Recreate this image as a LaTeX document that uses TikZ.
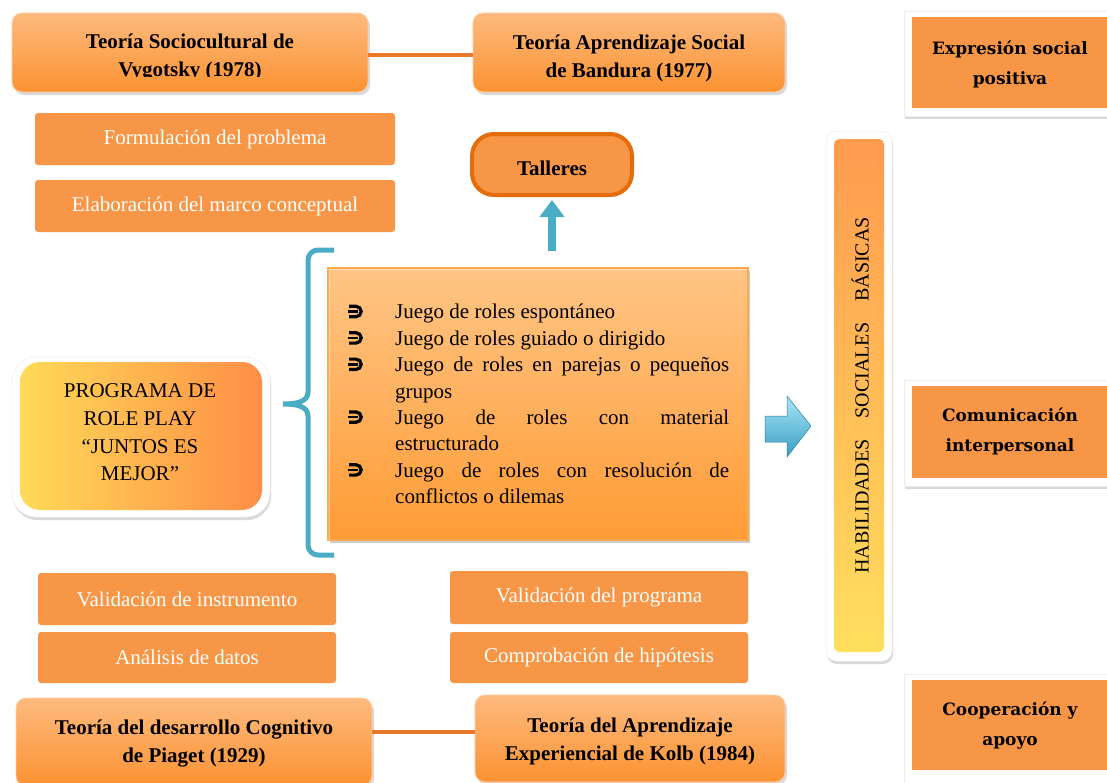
\documentclass[tikz,border=0pt]{standalone}
\usepackage{fontspec}
\setmainfont{Liberation Serif}
\newfontfamily\wideserif{DejaVu Serif}
\usetikzlibrary{shadows,arrows.meta}
\definecolor{flatorange}{HTML}{F79646}
\definecolor{darkorange}{HTML}{E46C0A}
\definecolor{linkorange}{HTML}{E8782A}
\definecolor{thtop}{HTML}{FDBA7E}
\definecolor{thbot}{HTML}{FC9232}
\definecolor{mtop}{HTML}{FFC585}
\definecolor{mbot}{HTML}{FF9C36}
\definecolor{skyblue}{HTML}{4BACC6}
\definecolor{pyellow}{HTML}{FFDA57}
\definecolor{porange}{HTML}{FF8E47}
\definecolor{htop}{HTML}{FF9A4F}
\definecolor{hbot}{HTML}{FFDF5E}
\definecolor{arrtop}{HTML}{A8E6F7}
\definecolor{arrbot}{HTML}{3A9EC4}
\newcommand\myfs[2]{\fontsize{#1}{#2}\selectfont}
\newcommand\gap{\makebox[50pt]{}}
\begin{document}
\begin{tikzpicture}[x=1pt,y=-1pt,
  theory/.style={rounded corners=10pt, top color=thtop, bottom color=thbot,
    draw=thtop!70!white, line width=0.8pt,
    drop shadow={opacity=0.3,shadow xshift=2pt,shadow yshift=-3pt},
    inner sep=0pt},
  theorytext/.style={inner sep=0pt, align=center, font=\bfseries\myfs{21}{28}},
  flat/.style={fill=flatorange, rounded corners=3pt, inner sep=0pt,
    text=white, align=center, font=\myfs{21}{26}},
  frame/.style={fill=white, draw=gray!15, line width=0.5pt,
    drop shadow={opacity=0.3,shadow xshift=1pt,shadow yshift=-3pt}},
  skill/.style={fill=flatorange, inner sep=0pt},
  skilltext/.style={inner sep=0pt, align=center, font=\wideserif\bfseries\myfs{17}{30}},
  bulletmark/.pic={
    \draw[line width=3.2pt] (-7,-5.2) -- (0,-5.2) arc[start angle=90,end angle=-90,radius=5.2pt] -- (-7,5.2);
    \draw[line width=2.6pt] (-8,0) -- (2,0);
  }
]
\useasboundingbox (0,0) rectangle (1107,782);

% theory boxes top
\node[theory, minimum width=356pt, minimum height=79pt] (t1) at (190,52.5) {};
\begin{scope}
  \clip (12,13) rectangle (368,76);
  \node[theorytext] (t1txt) at (190,58) {Teoría Sociocultural de\\Vygotsky (1978)};
\end{scope}
\node[theory, minimum width=312pt, minimum height=79pt] (t2) at (629,52.5) {};
\node[theorytext] (t2txt) at (629,58) {Teoría Aprendizaje Social\\de Bandura (1977)};
\draw[linkorange, line width=4pt] ([yshift=-2.5pt]t1.east) -- ([yshift=-2.5pt]t2.west);

% flat boxes
\node[flat, minimum width=360pt, minimum height=52pt] (f1) at (215,139) {Formulación del problema};
\node[flat, minimum width=360pt, minimum height=52pt] (f2) at (215,206) {Elaboración del marco conceptual};
\node[flat, minimum width=298pt, minimum height=52pt] (f3) at (187,599) {Validación de instrumento};
\node[flat, minimum width=298pt, minimum height=51pt] (f4) at (187,657.5) {Análisis de datos};
\node[flat, minimum width=298pt, minimum height=53pt] (f5) at (599,597.5) {Validación del programa};
\node[flat, minimum width=298pt, minimum height=51pt] (f6) at (599,657.5) {Comprobación de hipótesis};

% Talleres
\node[fill=flatorange, draw=darkorange, line width=4pt, rounded corners=22pt,
  minimum width=160pt, minimum height=61pt, inner sep=0pt] (tal) at (552,164.5) {};
\node[inner sep=0pt, font=\bfseries\myfs{21}{26}] (taltxt) at (552,168) {Talleres};
\coordinate (upstart) at (552,251);
\draw[skyblue, line width=8pt, -{Triangle[width=24pt,length=17pt]}, shorten >=3pt] (upstart) -- (tal.south);

% main box
\node[top color=mtop, bottom color=mbot, draw=mbot!70!mtop, line width=1.2pt,
  drop shadow={opacity=0.4,shadow xshift=2pt,shadow yshift=-3pt},
  minimum width=420pt, minimum height=272pt, inner sep=0pt] (mainbox) at (538,404) {};
\draw[white, opacity=0.45, line width=1.5pt] ([xshift=2pt,yshift=-2pt]mainbox.south west)
  -- ([xshift=2pt,yshift=-2pt]mainbox.north west) -- ([xshift=-2pt,yshift=-2pt]mainbox.north east);
\node[anchor=north west, inner sep=0pt, text width=384pt, align=justify,
  font=\myfs{21}{26.4}] (list) at (345,304) {%
  \hangindent=50pt\hangafter=1\noindent\gap Juego de roles espontáneo\par
  \hangindent=50pt\hangafter=1\noindent\gap Juego de roles guiado o dirigido\par
  \hangindent=50pt\hangafter=1\noindent\gap Juego de roles en parejas o pequeños\linebreak grupos\par
  \hangindent=50pt\hangafter=1\noindent\gap Juego de roles con material\linebreak estructurado\par
  \hangindent=50pt\hangafter=1\noindent\gap Juego de roles con resolución de\linebreak conflictos o dilemas\par};
\foreach \yy in {311.5,337.9,364.3,417.1,469.9}
  \pic at (356,\yy) {bulletmark};

% brace
\draw[skyblue, line width=5pt] (334,250) -- (318,250) to[out=180,in=90] (308,260)
  -- (308,392) to[out=-90,in=0] (283,404) to[out=0,in=90] (308,416)
  -- (308,545) to[out=-90,in=180] (318,555) -- (334,555);

% programa
\node[frame, rounded corners=24pt, minimum width=258pt, minimum height=160pt] (progframe) at (141,437) {};
\node[left color=pyellow, right color=porange, rounded corners=20pt,
  minimum width=242pt, minimum height=148pt, inner sep=0pt] (prog) at (141,436) {};
\node[inner sep=0pt, align=center, font=\myfs{21}{27.7}] (progtxt) at (140,432.5)
  {PROGRAMA DE\\ROLE PLAY\\“JUNTOS ES\\MEJOR”};

% right 3D arrow
\shade[top color=arrtop, bottom color=arrbot, draw=arrbot!80!black, line width=0.5pt]
  (765,416) -- (787,416) -- (787,396) -- (811,426) -- (787,457) -- (787,442) -- (765,442) -- cycle;

% habilidades bar
\node[frame, rounded corners=10pt, minimum width=66pt, minimum height=530pt] (habframe) at (859,396) {};
\node[top color=htop, bottom color=hbot, rounded corners=5pt,
  minimum width=50pt, minimum height=513pt, inner sep=0pt] (hab) at (859,395.5) {};
\node[rotate=90, inner sep=0pt, font=\myfs{20}{24}] (habtxt) at (860,395.5)
  {HABILIDADES\hspace{21pt}SOCIALES\hspace{21pt}BÁSICAS};

% skill boxes
\node[frame, minimum width=216pt, minimum height=105pt] (s1f) at (1012,63.5) {};
\node[skill, minimum width=208pt, minimum height=91pt] (s1) at (1016,62.5) {};
\node[skilltext] (s1t) at (1010,64) {Expresión social\\positiva};

\node[frame, minimum width=216pt, minimum height=106pt] (s2f) at (1012,433) {};
\node[skill, minimum width=208pt, minimum height=92pt] (s2) at (1016,432) {};
\node[skilltext] (s2t) at (1010,431.5) {Comunicación\\interpersonal};

\node[frame, minimum width=216pt, minimum height=116pt] (s3f) at (1012,732) {};
\node[skill, minimum width=208pt, minimum height=90pt] (s3) at (1016,725) {};
\node[skilltext] (s3t) at (1010,726) {Cooperación y\\apoyo};

% theory boxes bottom
\node[theory, minimum width=356pt, minimum height=88pt] (t3) at (194,742) {};
\node[theorytext] (t3txt) at (194,744) {Teoría del desarrollo Cognitivo\\de Piaget (1929)};
\node[theory, minimum width=310pt, minimum height=87pt] (t4) at (630,738.5) {};
\node[theorytext] (t4txt) at (630,741) {Teoría del Aprendizaje\\Experiencial de Kolb (1984)};
\draw[linkorange, line width=4pt] ([yshift=10pt]t3.east) -- ([yshift=6.5pt]t4.west);
\end{tikzpicture}
\end{document}
